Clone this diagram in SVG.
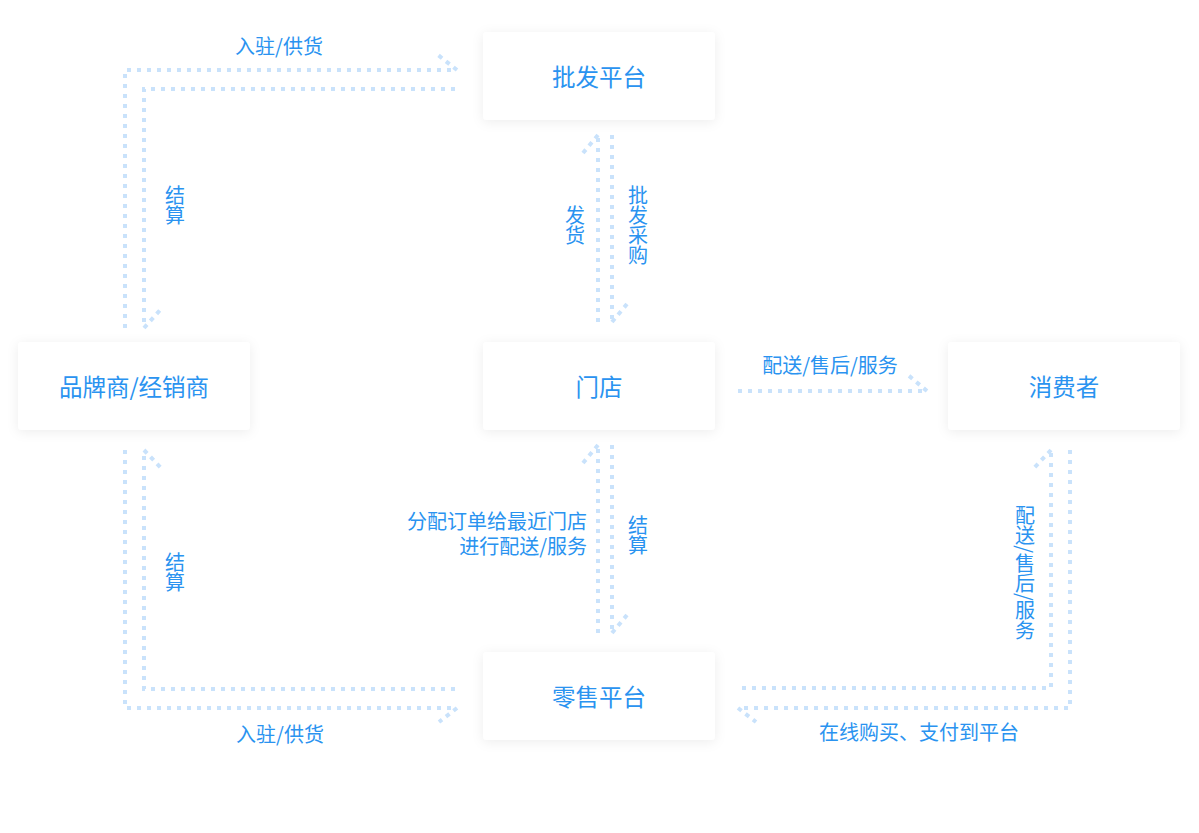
<svg xmlns="http://www.w3.org/2000/svg" width="1199" height="833" viewBox="0 0 1199 833">
<style>
.node rect{fill:#fff;filter:url(#sh)}
.nt{font-family:"Noto Sans CJK SC","Noto Sans",sans-serif;font-size:23.5px;fill:#2a93f0;text-anchor:middle;dominant-baseline:central}
.lb{font-family:"Noto Sans CJK SC","Noto Sans",sans-serif;font-size:20px;fill:#2a93f0}
.v{writing-mode:vertical-rl;text-anchor:middle}
.c path{fill:none;stroke:#c9e2fb;stroke-width:4;stroke-dasharray:4 6}
.c path.b{stroke-dasharray:4.5 5}
</style>
<defs>
<filter id="sh" x="-20%" y="-30%" width="140%" height="160%">
<feDropShadow dx="0" dy="2" stdDeviation="6" flood-color="#000" flood-opacity="0.07"/>
</filter>
</defs>
<rect width="1199" height="833" fill="#fff"/>
<g id="connectors" class="c">
<path d="M125,328 V70 H457"/><path class="b" d="M457,70 L438,55"/>
<path d="M455,89 H144 V328"/><path class="b" d="M144,328 L161,309"/>
<path d="M125,450 V708 H457"/><path class="b" d="M457,708 L439,722"/>
<path d="M455,689 H144 V450"/><path class="b" d="M144,450 L162,469"/>
<path d="M598,322 V135"/><path class="b" d="M598,135 L583,153"/>
<path d="M612,135 V322"/><path class="b" d="M612,322 L627,304"/>
<path d="M598,633 V445"/><path class="b" d="M598,445 L583,463"/>
<path d="M612,445 V633"/><path class="b" d="M612,633 L627,615"/>
<path d="M738,391 H927"/><path class="b" d="M927,391 L908,375"/>
<path d="M742,688 H1051 V450"/><path class="b" d="M1051,450 L1034,468"/>
<path d="M1070,450 V708 H738"/><path class="b" d="M738,708 L756,722"/>
</g>
<g id="labels">
<text class="lb" x="279" y="54" text-anchor="middle">入驻/供货</text>
<text class="lb" x="280" y="742" text-anchor="middle">入驻/供货</text>
<text class="lb v" x="175" y="205">结算</text>
<text class="lb v" x="175" y="572">结算</text>
<text class="lb v" x="575" y="225">发货</text>
<text class="lb v" x="638" y="225">批发采购</text>
<text class="lb v" x="638" y="535">结算</text>
<text class="lb" x="587" y="529" text-anchor="end">分配订单给最近门店</text>
<text class="lb" x="587" y="554" text-anchor="end">进行配送/服务</text>
<text class="lb" x="830" y="373" text-anchor="middle">配送/售后/服务</text>
<text class="lb v" x="1025" y="573">配送/售后/服务</text>
<text class="lb" x="919" y="740" text-anchor="middle">在线购买、支付到平台</text>
</g>
<g id="n-wholesale" class="node"><rect x="483" y="32" width="232" height="88" rx="4"/><text class="nt" x="599" y="76">批发平台</text></g>
<g id="n-brand" class="node"><rect x="18" y="342" width="232" height="88" rx="4"/><text class="nt" x="134" y="386">品牌商/经销商</text></g>
<g id="n-store" class="node"><rect x="483" y="342" width="232" height="88" rx="4"/><text class="nt" x="599" y="386">门店</text></g>
<g id="n-consumer" class="node"><rect x="948" y="342" width="232" height="88" rx="4"/><text class="nt" x="1064" y="386">消费者</text></g>
<g id="n-retail" class="node"><rect x="483" y="652" width="232" height="88" rx="4"/><text class="nt" x="599" y="696">零售平台</text></g>
</svg>
